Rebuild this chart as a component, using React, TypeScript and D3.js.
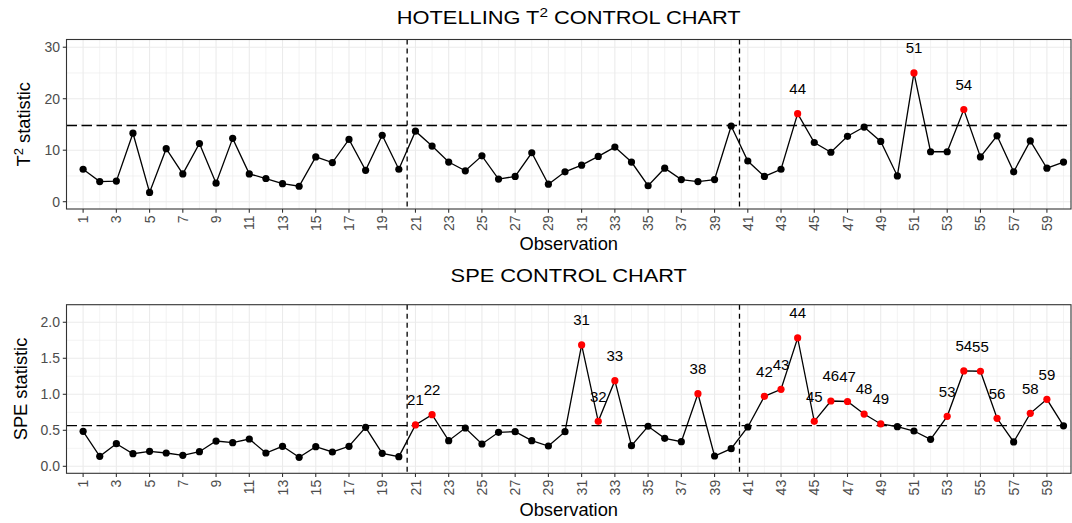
import React from "react";
import * as d3 from "d3";

const observations: number[] = d3.range(1, 61);

const t2Values: number[] = [
  6.3, 3.9, 4.0, 13.3, 1.8, 10.3, 5.4, 11.3, 3.6, 12.3,
  5.4, 4.5, 3.5, 3.0, 8.7, 7.6, 12.1, 6.1, 12.9, 6.3,
  13.7, 10.8, 7.7, 6.0, 8.9, 4.4, 4.9, 9.5, 3.4, 5.8,
  7.1, 8.8, 10.6, 7.7, 3.1, 6.5, 4.3, 3.9, 4.3, 14.7,
  7.9, 4.9, 6.3, 17.1, 11.5, 9.6, 12.7, 14.5, 11.7, 5.0,
  25.0, 9.7, 9.7, 17.9, 8.7, 12.8, 5.8, 11.8, 6.5, 7.7,
];

const speValues: number[] = [
  0.486, 0.139, 0.314, 0.175, 0.208, 0.185, 0.153, 0.203, 0.351, 0.328,
  0.379, 0.185, 0.278, 0.125, 0.272, 0.199, 0.278, 0.542, 0.18, 0.134,
  0.575, 0.717, 0.356, 0.532, 0.31, 0.472, 0.481, 0.356, 0.282, 0.481,
  1.685, 0.625, 1.189, 0.286, 0.556, 0.389, 0.342, 1.008, 0.143, 0.245,
  0.546, 0.972, 1.069, 1.782, 0.625, 0.907, 0.9, 0.726, 0.588, 0.55,
  0.49, 0.375, 0.694, 1.324, 1.32, 0.667, 0.338, 0.736, 0.93, 0.562,
];

const t2Limit = 14.8;
const speLimit = 0.565;
const phaseBreaks: number[] = [20.5, 40.5];
const xTicks: number[] = d3.range(1, 60, 2);
const xMinor: number[] = d3.range(0, 61, 2);
const t2Ticks: number[] = [0, 10, 20, 30];
const t2Minor: number[] = [5, 15, 25];
const speTicks: number[] = [0, 0.5, 1, 1.5, 2];
const speMinor: number[] = [0.25, 0.75, 1.25, 1.75];

const FONT = "'Liberation Sans', Arial, Helvetica, sans-serif";
const GRID = "#EBEBEB";

type PanelProps = {
  top: number;
  bottom: number;
  values: number[];
  limit: number;
  yDomain: [number, number];
  yTicks: number[];
  yMinor: number[];
  tickFmt: (v: number) => string;
  title: React.ReactNode;
  titleY: number;
  yTitle: React.ReactNode;
  yTitleX: number;
  xTitleY: number;
};

const LEFT = 66.5;
const RIGHT = 1071;

function Panel(p: PanelProps) {
  const x = d3.scaleLinear().domain([0, 60.45]).range([LEFT, RIGHT]);
  const y = d3.scaleLinear().domain(p.yDomain).range([p.bottom, p.top]);
  const line = d3
    .line<number>()
    .x((_, i) => x(observations[i]))
    .y((v) => y(v));
  const midY = (p.top + p.bottom) / 2;
  return (
    <g>
      <text
        transform={`translate(${(LEFT + RIGHT) / 2},${p.titleY}) scale(1.18,1)`}
        textAnchor="middle"
        fontSize={18.5}
        fontFamily={FONT}
        fill="#000"
      >
        {p.title}
      </text>
      {/* grid */}
      {p.yMinor.map((t) => (
        <line key={"ym" + t} x1={LEFT} x2={RIGHT} y1={y(t)} y2={y(t)} stroke={GRID} strokeWidth={0.6} />
      ))}
      {xMinor.map((t) => (
        <line key={"xm" + t} x1={x(t)} x2={x(t)} y1={p.top} y2={p.bottom} stroke={GRID} strokeWidth={0.6} />
      ))}
      {p.yTicks.map((t) => (
        <line key={"yM" + t} x1={LEFT} x2={RIGHT} y1={y(t)} y2={y(t)} stroke={GRID} strokeWidth={1.1} />
      ))}
      {xTicks.map((t) => (
        <line key={"xM" + t} x1={x(t)} x2={x(t)} y1={p.top} y2={p.bottom} stroke={GRID} strokeWidth={1.1} />
      ))}
      {/* limit */}
      <line
        x1={LEFT}
        x2={RIGHT}
        y1={y(p.limit)}
        y2={y(p.limit)}
        stroke="#000"
        strokeWidth={1.4}
        strokeDasharray="10.5,4.5"
      />
      {phaseBreaks.map((b) => (
        <line
          key={"pb" + b}
          x1={x(b)}
          x2={x(b)}
          y1={p.top}
          y2={p.bottom}
          stroke="#000"
          strokeWidth={1.3}
          strokeDasharray="5,4"
        />
      ))}
      <path d={line(p.values) || ""} fill="none" stroke="#000" strokeWidth={1.3} />
      {p.values.map((v, i) => (
        <circle
          key={"pt" + i}
          cx={x(observations[i])}
          cy={y(v)}
          r={3.6}
          fill={v > p.limit ? "#FF0000" : "#000"}
        />
      ))}
      {p.values.map((v, i) =>
        v > p.limit ? (
          <text
            key={"lb" + i}
            x={x(observations[i])}
            y={y(v) - 25}
            dy="0.36em"
            textAnchor="middle"
            fontSize={15}
            fontFamily={FONT}
            fill="#000"
          >
            {observations[i]}
          </text>
        ) : null
      )}
      {/* border */}
      <rect
        x={LEFT}
        y={p.top}
        width={RIGHT - LEFT}
        height={p.bottom - p.top}
        fill="none"
        stroke="#333333"
        strokeWidth={1.1}
      />
      {/* y axis */}
      {p.yTicks.map((t) => (
        <g key={"yt" + t}>
          <line x1={LEFT - 3.7} x2={LEFT} y1={y(t)} y2={y(t)} stroke="#333333" strokeWidth={1.1} />
          <text
            x={LEFT - 6.5}
            y={y(t)}
            dy="0.36em"
            textAnchor="end"
            fontSize={14}
            fontFamily={FONT}
            fill="#4D4D4D"
          >
            {p.tickFmt(t)}
          </text>
        </g>
      ))}
      {/* x axis */}
      {xTicks.map((t) => (
        <g key={"xt" + t}>
          <line x1={x(t)} x2={x(t)} y1={p.bottom} y2={p.bottom + 3.7} stroke="#333333" strokeWidth={1.1} />
          <text
            transform={`translate(${x(t)},${p.bottom + 6.5}) rotate(-90)`}
            dy="0.36em"
            textAnchor="end"
            fontSize={14}
            fontFamily={FONT}
            fill="#4D4D4D"
          >
            {t}
          </text>
        </g>
      ))}
      <text
        x={(LEFT + RIGHT) / 2}
        y={p.xTitleY}
        textAnchor="middle"
        fontSize={18.3}
        fontFamily={FONT}
        fill="#000"
      >
        Observation
      </text>
      <text
        transform={`translate(${p.yTitleX},${midY}) rotate(-90)`}
        textAnchor="middle"
        fontSize={18.3}
        fontFamily={FONT}
        fill="#000"
      >
        {p.yTitle}
      </text>
    </g>
  );
}

export default function App() {
  return (
    <svg
      width={1072}
      height={523}
      style={{ position: "absolute", left: 0, top: 0, background: "#fff" }}
    >
      <rect x={0} y={0} width={1072} height={523} fill="#fff" />
      <Panel
        top={39.5}
        bottom={209}
        values={t2Values}
        limit={t2Limit}
        yDomain={[-1.42, 31.5]}
        yTicks={t2Ticks}
        yMinor={t2Minor}
        tickFmt={(v) => String(v)}
        title={
          <>
            HOTELLING T
            <tspan fontSize={13} dy={-7}>2</tspan>
            <tspan dy={7}> CONTROL CHART</tspan>
          </>
        }
        titleY={24}
        yTitle={
          <>
            T<tspan fontSize={13} dy={-7}>2</tspan>
            <tspan dy={7}> statistic</tspan>
          </>
        }
        yTitleX={30}
        xTitleY={250}
      />
      <Panel
        top={304.7}
        bottom={473.3}
        values={speValues}
        limit={speLimit}
        yDomain={[-0.097, 2.244]}
        yTicks={speTicks}
        yMinor={speMinor}
        tickFmt={(v) => d3.format(".1f")(v)}
        title="SPE CONTROL CHART"
        titleY={281.7}
        yTitle="SPE statistic"
        yTitleX={27}
        xTitleY={515.5}
      />
    </svg>
  );
}
